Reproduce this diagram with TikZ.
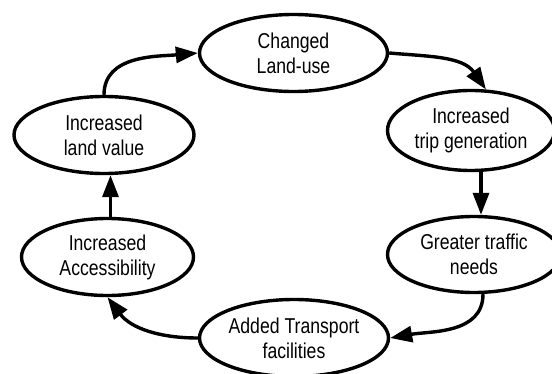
\documentclass[tikz,border=0pt]{standalone}
\usepackage{fontspec}
\setmainfont[FakeStretch=0.82]{Liberation Sans}
\usetikzlibrary{shapes.geometric,arrows.meta}
\begin{document}
\begin{tikzpicture}[x=1pt,y=1pt,
  bub/.style={ellipse, draw, line width=3.4pt, inner sep=0pt, align=center,
    font=\fontsize{21.5}{25}\selectfont},
  arr/.style={line width=3.4pt, -{Triangle[length=22pt,width=16pt]}}]
\useasboundingbox (0,0) rectangle (552,373);
\node[bub, minimum width=188pt, minimum height=77pt] (changed) at (293.5,320) {Changed\\Land-use};
\node[bub, minimum width=167pt, minimum height=80pt] (trip) at (471,242.5) {Increased\\trip generation};
\node[bub, minimum width=173pt, minimum height=76pt] (greater) at (474,118.5) {Greater traffic\\needs};
\node[bub, minimum width=189pt, minimum height=77pt] (added) at (294,35) {Added Transport\\facilities};
\node[bub, minimum width=172pt, minimum height=77pt] (access) at (107.5,116) {Increased\\Accessibility};
\node[bub, minimum width=180pt, minimum height=77pt] (land) at (104,238) {Increased\\land value};
\draw[arr] (land.north) to[out=90,in=185] (changed.west);
\draw[arr] (changed.east) to[out=-5,in=125] (trip.70);
\draw[arr] ([xshift=10pt]trip.south) -- ([xshift=7pt]greater.north);
\draw[arr] ([xshift=9pt]greater.south) to[out=-90,in=10] (added.east);
\draw[arr] (added.west) to[out=180,in=-53] (access.south);
\draw[arr] ([xshift=3pt]access.north) -- ([xshift=6.5pt]land.south);
\end{tikzpicture}
\end{document}
